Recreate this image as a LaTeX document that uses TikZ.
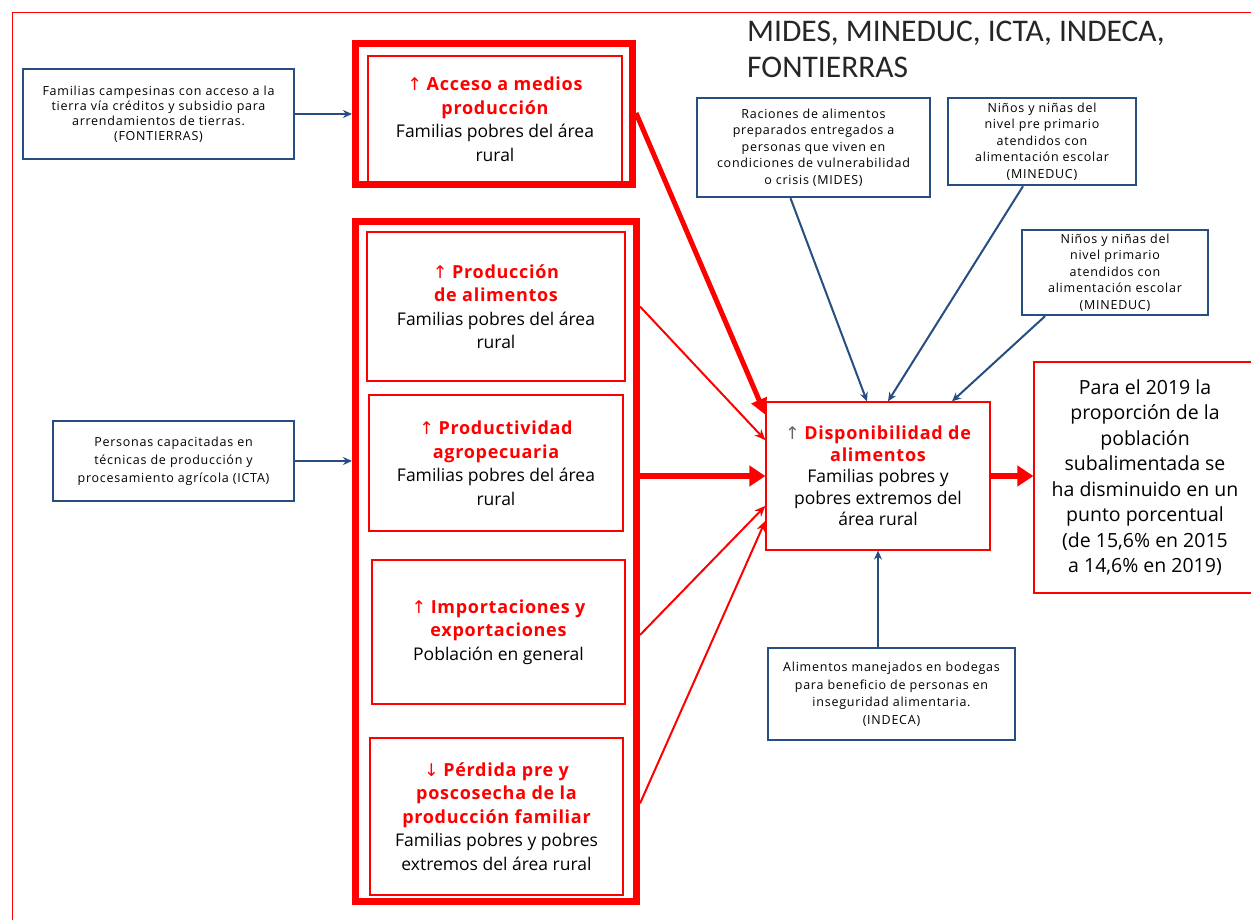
\documentclass[tikz,border=0pt]{standalone}
\usepackage{fontspec}
\setmainfont{Open Sans}
\newfontfamily\titlefont{Carlito}
\newfontfamily\symfont{DejaVu Sans}
\newfontfamily\smallfont[LetterSpace=6]{Open Sans}
\newfontfamily\boldspaced[LetterSpace=4]{Open Sans}
\usetikzlibrary{arrows.meta,calc}
\definecolor{myred}{RGB}{255,0,0}
\definecolor{myblue}{RGB}{38,78,128}
\newcommand{\redtl}[1]{\textcolor{myred}{\boldspaced\bfseries\fontsize{18}{24}\selectfont #1}}
\newcommand{\upar}{{\symfont\mdseries\textcolor{myred}{↑}}}
\newcommand{\dnar}{{\symfont\mdseries\textcolor{myred}{↓}}}
\tikzset{
  bluebox/.style={draw=myblue, line width=2.4pt, align=center, inner sep=0pt,
    font=\smallfont\fontsize{12.5}{16.5}\selectfont},
  redinner/.style={draw=myred, line width=1.2pt, align=center, inner sep=0pt,
    font=\fontsize{17.5}{23.5}\selectfont},
  redthick/.style={draw=myred, line width=7pt, inner sep=0pt},
  bluearrow/.style={draw=myblue, line width=2pt, -{Stealth[length=9pt,width=8pt]}},
  redthin/.style={draw=myred, line width=2pt, -{Stealth[length=11pt,width=9pt]}},
  redfat/.style={draw=myred, line width=6pt, -{Triangle[length=16pt,width=20pt]}}
}
\begin{document}
\begin{tikzpicture}[x=1pt,y=-1pt]
\useasboundingbox (0,0) rectangle (1251,919);
\fill[white] (0,0) rectangle (1251,919);
% outer frame (top and left visible)
\draw[myred, line width=1pt] (1260,12) -- (12,12) -- (12,930);

% title
\node[anchor=north west, align=left, inner sep=0pt, font=\titlefont\fontsize{31.5}{36}\selectfont, text=black!85] (title) at (747,21)
  {MIDES, MINEDUC, ICTA, INDECA,\\FONTIERRAS};

% left blue boxes
\node[bluebox, minimum width=271pt, minimum height=90pt, font=\smallfont\fontsize{12.5}{15}\selectfont] (fam) at (158.5,114)
  {Familias campesinas con acceso a la\\tierra vía créditos y subsidio para\\arrendamientos de tierras.\\(FONTIERRAS)};
\node[bluebox, minimum width=241pt, minimum height=80pt, font=\smallfont\fontsize{12.5}{18}\selectfont] (icta) at (173.5,461)
  {Personas capacitadas en\\técnicas de producción y\\procesamiento agrícola (ICTA)};

% acceso box
\node[redthick, minimum width=277pt, minimum height=141pt] (bout) at (494,114) {};
\node[redinner, minimum width=254pt, minimum height=126pt] (acc) at (495,119)
  {\upar\ \redtl{Acceso a medios}\\\redtl{producción}\\Familias pobres del área\\rural};

% group box
\node[redthick, minimum width=281pt, minimum height=680pt] (grp) at (496,561.5) {};
\node[redinner, minimum width=258pt, minimum height=149pt] (prod) at (496,306.5)
  {\upar\ \redtl{Producción}\\\redtl{de alimentos}\\Familias pobres del área\\rural};
\node[redinner, minimum width=254pt, minimum height=136pt] (pvd) at (496,463)
  {\upar\ \redtl{Productividad}\\\redtl{agropecuaria}\\Familias pobres del área\\rural};
\node[redinner, minimum width=253pt, minimum height=144pt] (imp) at (498.5,632)
  {\upar\ \redtl{Importaciones y}\\\redtl{exportaciones}\\Población en general};
\node[redinner, minimum width=253pt, minimum height=157pt] (perd) at (496.5,816.5)
  {\dnar\ \redtl{Pérdida pre y}\\\redtl{poscosecha de la}\\\redtl{producción familiar}\\Familias pobres y pobres\\extremos del área rural};

% top-right blue boxes
\node[bluebox, minimum width=233pt, minimum height=99pt] (mides) at (813.5,147.5)
  {Raciones de alimentos\\preparados entregados a\\personas que viven en\\condiciones de vulnerabilidad\\o crisis (MIDES)};
\node[bluebox, minimum width=188pt, minimum height=87pt] (mined1) at (1042,141.5)
  {Niños y niñas del\\nivel pre primario\\atendidos con\\alimentación escolar\\(MINEDUC)};
\node[bluebox, minimum width=186pt, minimum height=85pt] (mined2) at (1115,272.5)
  {Niños y niñas del\\nivel primario\\atendidos con\\alimentación escolar\\(MINEDUC)};
\node[bluebox, minimum width=247pt, minimum height=92pt, font=\smallfont\fontsize{12.5}{17.5}\selectfont] (indeca) at (891.5,694)
  {Alimentos manejados en bodegas\\para beneficio de personas en\\inseguridad alimentaria.\\(INDECA)};

% disponibilidad
\node[draw=myred, line width=1.2pt, align=center, inner sep=0pt, minimum width=224pt, minimum height=148pt,
  font=\fontsize{17.5}{21.5}\selectfont] (disp) at (878,476)
  {{\symfont\textcolor{black!60}{↑}}\ \redtl{Disponibilidad de}\\\redtl{alimentos}\\Familias pobres y\\pobres extremos del\\área rural};

% target
\node[draw=myred, line width=1.2pt, align=center, inner sep=0pt, minimum width=222pt, minimum height=231pt,
  font=\fontsize{19.5}{25.5}\selectfont] (target) at (1145,477.5)
  {Para el 2019 la\\proporción de la\\población\\subalimentada se\\ha disminuido en un\\punto porcentual\\(de 15,6\% en 2015\\a 14,6\% en 2019)};

% blue connectors
\draw[bluearrow] (fam.east) -- (bout.west |- fam.east);
\draw[bluearrow] (icta.east) -- (grp.west |- icta.east);
\draw[bluearrow] ([xshift=-23pt]mides.south) -- ([xshift=-11pt]disp.north);
\draw[bluearrow] ([xshift=-19pt]mined1.south) -- ([xshift=10pt]disp.north);
\draw[bluearrow] ([xshift=-70pt]mined2.south) -- ([xshift=74pt]disp.north);
\draw[bluearrow] (disp.south |- indeca.north) -- (disp.south);

% red connectors
\draw[redfat, line width=5pt, -{Triangle[length=16pt,width=16pt]}] ([yshift=1pt]bout.east) -- ($(disp.north west)!0.09!(disp.south west)$);
\draw[redthin] (grp.east |- prod.east) -- ($(disp.north west)!0.26!(disp.south west)$);
\draw[redfat] (grp.east |- disp.west) -- (disp.west);
\draw[redthin] ([yshift=-3pt]grp.east |- imp.east) -- ($(disp.north west)!0.70!(disp.south west)$);
\draw[redthin] ([yshift=13pt]grp.east |- perd.center) -- ($(disp.north west)!0.80!(disp.south west)$);
\draw[redfat] (disp.east) -- (target.west |- disp.east);
\end{tikzpicture}
\end{document}
